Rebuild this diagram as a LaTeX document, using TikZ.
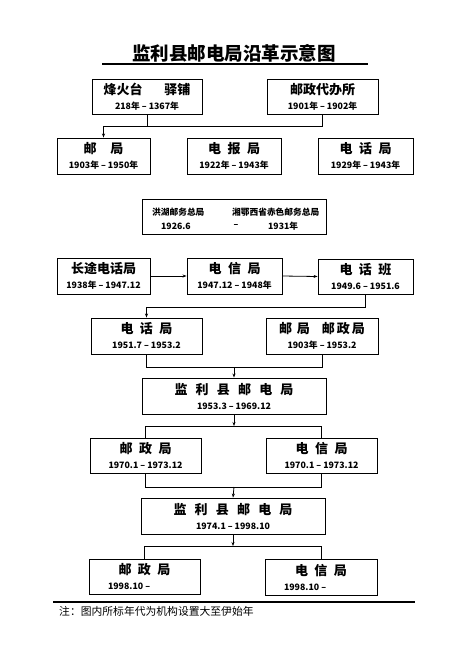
\documentclass[tikz,border=0pt]{standalone}
\usepackage{fontspec}
\setmainfont{Noto Sans CJK SC}
\newfontfamily\cjk{Noto Sans CJK SC}
\usetikzlibrary{arrows.meta}
\newcommand\gp[1]{\hspace{#1pt}}
\newcommand\ttl{\fontsize{13}{15}\selectfont\bfseries}
\newcommand\dtf{\fontsize{8.8}{15}\selectfont\bfseries}
\tikzset{
  box/.style={draw, line width=0.9pt, rectangle, inner sep=0pt, align=center,
    minimum height=36pt, font=\dtf},
  sbox/.style={box, minimum width=94pt},
  mbox/.style={box, minimum width=111pt},
  wbox/.style={box, minimum width=184pt},
  conn/.style={line width=0.8pt},
  arr/.style={conn, -{Stealth[length=4pt,width=3pt]}},
  small/.style={font=\fontsize{8.7}{10}\selectfont\bfseries, inner sep=0pt},
}
\begin{document}
\begin{tikzpicture}[x=1pt,y=-1pt]
\useasboundingbox (0,0) rectangle (450,657);
\fill[white] (0,0) rectangle (450,657);
% title
\node[font=\fontsize{18.5}{20}\selectfont\bfseries] (title) at (234,53) {监利县邮电局沿革示意图};
\draw[line width=1.4pt] (102,64) -- (368,64);
% row 1
\node[mbox, minimum width=110pt, minimum height=35pt] (A) at (147,96.5) {{\ttl 烽火台\gp{22}驿铺}\\218年 – 1367年};
\node[mbox, minimum height=35pt] (B) at (322.5,96.5) {{\ttl 邮政代办所}\\1901年 – 1902年};
% row 2
\node[sbox, minimum width=93pt] (C) at (103.5,156) {{\ttl 邮\gp{14}局}\\1903年 – 1950年};
\node[sbox] (D) at (234,156) {{\ttl 电\gp{6.5}报\gp{6.5}局}\\1922年 – 1943年};
\node[sbox, minimum width=95pt] (E) at (365.5,156) {{\ttl 电\gp{6.5}话\gp{6.5}局}\\1929年 – 1943年};
% row 3
\node[wbox, minimum height=35pt] (F) at (234,216.5) {};
\node[small, anchor=west] (f1) at (152,212) {洪湖邮务总局};
\node[small, anchor=west] (f2) at (232,212) {湘鄂西省赤色邮务总局};
\node[small, anchor=west] (f3) at (161,226) {1926.6};
\node[small] (f4) at (236,226) {–};
\node[small, anchor=west] (f5) at (268,226) {1931年};
% row 4
\node[sbox, minimum width=93pt] (G) at (103.5,276) {{\ttl 长途电话局}\\1938年 – 1947.12};
\node[sbox, minimum width=95pt] (H) at (234.5,276) {{\ttl 电\gp{6.5}信\gp{6.5}局}\\1947.12 – 1948年};
\node[sbox, minimum width=95pt, minimum height=35pt] (I) at (365.5,276.5) {{\ttl 电\gp{6.5}话\gp{6.5}班}\\1949.6 – 1951.6};
% row 5
\node[mbox] (J) at (146.5,336) {{\ttl 电\gp{6.5}话\gp{6.5}局}\\1951.7 – 1953.2};
\node[mbox, minimum width=112pt] (K) at (322,336) {{\ttl 邮\gp{5}局\gp{12}邮\gp{2}政\gp{2}局}\\1903年 – 1953.2};
% row 6
\node[wbox] (L) at (234,396) {{\ttl 监\gp{8.2}利\gp{8.2}县\gp{8.2}邮\gp{8.2}电\gp{8.2}局}\\1953.3 – 1969.12};
% row 7
\node[mbox, minimum height=35pt] (M) at (145.5,455.5) {{\ttl 邮\gp{6.5}政\gp{6.5}局}\\1970.1 – 1973.12};
\node[mbox, minimum height=35pt] (N) at (321.5,455.5) {{\ttl 电\gp{6.5}信\gp{6.5}局}\\1970.1 – 1973.12};
% row 8
\node[wbox] (O) at (233,516) {{\ttl 监\gp{8.2}利\gp{8.2}县\gp{8.2}邮\gp{8.2}电\gp{8.2}局}\\1974.1 – 1998.10};
% row 9
\node[mbox, minimum height=35pt] (P) at (144.5,576.5) {{\ttl 邮\gp{6.5}政\gp{6.5}局}\\\makebox[73pt][l]{1998.10 –}};
\node[mbox, minimum width=112pt, minimum height=36pt] (Q) at (321,577) {{\ttl 电\gp{6.5}信\gp{6.5}局}\\\makebox[74pt][l]{1998.10 –}};
% footer
\draw[line width=1.2pt] (53,602) -- (415,602);
\node[anchor=west, font=\fontsize{10.8}{12}\selectfont, inner sep=0pt] (note) at (59,611) {注：图内所标年代为机构设置大至伊始年};
% junction coordinates
\coordinate (j1) at (103.5,126);
\coordinate (j2) at (234,307);
\coordinate (j3) at (234,367);
\coordinate (j4) at (234,426);
\coordinate (j5) at (234,487);
\coordinate (j6) at (233,546);
% connectors
\draw[conn] (A.south) -- (A.south |- j1);
\draw[arr] (B.south) |- (j1) -- (C.north);
\draw[arr] (G.east) -- (H.west);
\draw[arr] (H.east) -- (I.west);
\draw[arr] (I.south) |- (J.north |- j2) -- (J.north);
\draw[conn] (J.south) |- (K.south |- j3) -- (K.south);
\draw[arr] (j3) -- (L.north);
\draw[arr] (L.south) -- (j4);
\draw[conn] (M.north) |- (N.north |- j4) -- (N.north);
\draw[conn] (M.south) |- (N.south |- j5) -- (N.south);
\draw[arr] (j5) -- (O.north);
\draw[arr] (O.south) -- (j6);
\draw[conn] (P.north) |- (Q.north |- j6) -- (Q.north);
\end{tikzpicture}
\end{document}
